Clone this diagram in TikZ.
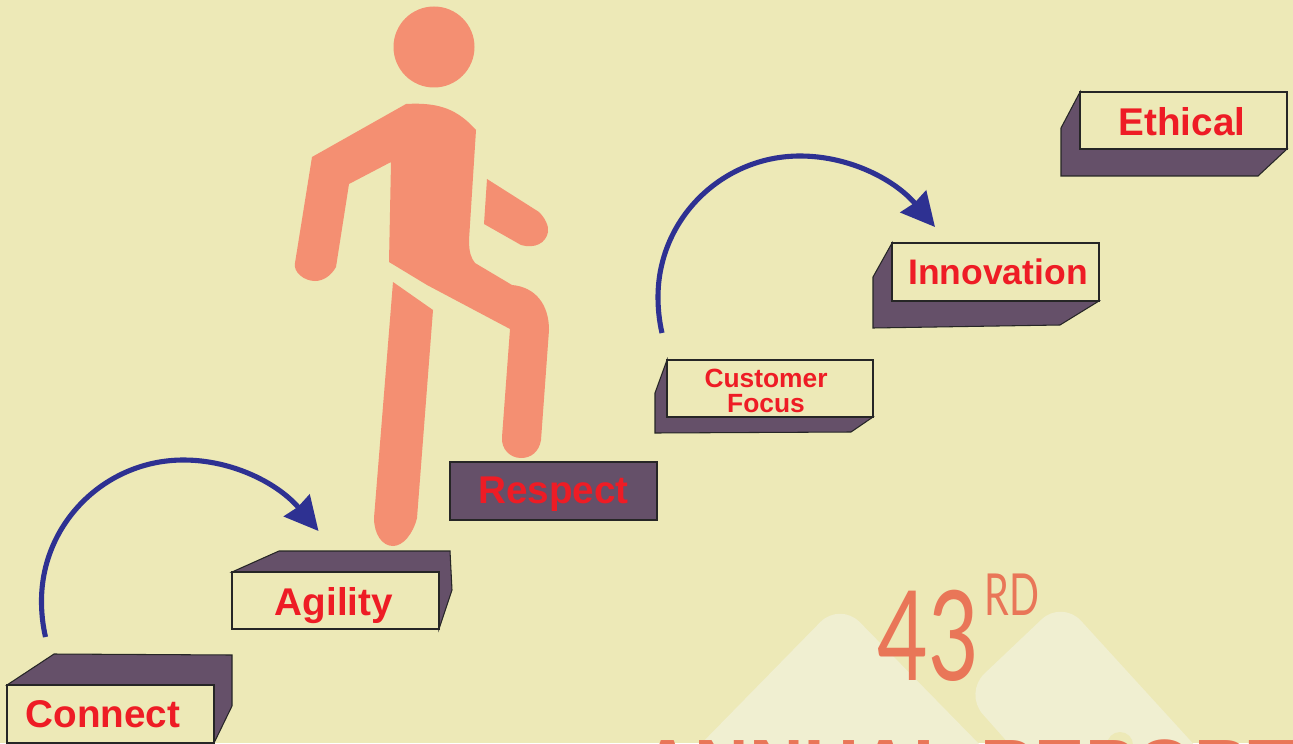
\documentclass[tikz,border=0pt]{standalone}
\usepackage{fontspec}
\setmainfont{Liberation Sans}
\newfontfamily\yearfont{Lato}
\usetikzlibrary{arrows.meta}
\definecolor{paper}{HTML}{EDE9B7}
\definecolor{peak}{HTML}{F0EFD1}
\definecolor{block}{HTML}{655069}
\definecolor{stepred}{HTML}{EE1C25}
\definecolor{archblue}{HTML}{2E3192}
\definecolor{walker}{HTML}{F48F72}
\definecolor{title}{HTML}{E97658}
\tikzset{
	blockside/.style={draw=black!85, line width=0.6pt, fill=block},
	blockfront/.style={draw=black!85, line width=0.6pt, fill=paper},
	steptext/.style={text=stepred, font=\bfseries\fontsize{22}{22}\selectfont},
	steparch/.style={draw=archblue, line width=2.9pt, -{Stealth[length=19pt, width=19pt, inset=1pt]}},
}
\newcommand{\stepfront}[4] % left, top, right, bottom
{
	\draw[blockfront] (#1,#2) rectangle (#3,#4);
}
\begin{document}
\begin{tikzpicture}[x=0.02cm, y=-0.02cm]
	% pixel coordinates, y downwards
	\clip (0,0) rectangle (1293,743);
	\fill[paper] (0,0) rectangle (1293,743);
	% mountains behind the title
	\fill[peak, rounded corners=16pt] (840,602) -- (1080,847) -- (600,847) -- cycle;
	\fill[peak, rounded corners=16pt] (1062,600) -- (1292,852) -- (1105,852) -- (964,693) -- cycle;
	\fill[paper] (1120,745) circle (13);
	\node[anchor=base west, text=title, font=\bfseries\fontsize{43}{43}\selectfont, inner sep=0pt] (annual) at (640,792) {ANNUAL REPORT};
	\node[anchor=base west, text=title, font=\yearfont\fontsize{71}{71}\selectfont, inner sep=0pt] (year) at (877,680) {\scalebox{0.7}[1]{43}};
	\node[anchor=base west, text=title, font=\yearfont\fontsize{33}{33}\selectfont, inner sep=0pt] (suffix) at (984,615) {\scalebox{0.68}[1]{RD}};
	
	% walking figure
	\fill[walker] (434,47) circle (40.5);
	\fill[walker] (406,104) .. controls (440,102) and (458,110) .. (476,130) -- (469,240) .. controls (469,252) and (471,258) .. (475,263) -- (512,285) .. controls (535,287) and (549,304) .. (549,330) -- (541,440) .. controls (539,452) and (531,458) .. (521,458) .. controls (510,458) and (501,449) .. (502,437) -- (510,329) -- (427,285) -- (389,262) -- (391,162) -- (349,184) -- (336,267) .. controls (331,276) and (323,281) .. (315,281) .. controls (304,281) and (293,272) .. (295,263) -- (312,157) -- cycle;
	\fill[walker] (487,179) -- (539,212) .. controls (545,218) and (549,226) .. (548,232) .. controls (546,243) and (535,249) .. (521,245) -- (484,224) -- cycle;
	\fill[walker] (393,282) -- (433,310) -- (417,518) .. controls (413,534) and (403,546) .. (393,546) .. controls (382,546) and (374,534) .. (374,518) -- cycle;
	
	% blocks
	\draw[blockside] (7,685) -- (54,654) -- (232,655) -- (232,706) -- (214,743) -- (214,685) -- cycle;
	\stepfront{7}{685}{214}{743}
	\node[steptext] (connect) at (103,714) {Connect};
	
	\draw[blockside] (232,572) -- (279,551) -- (450,551) -- (452,590) -- (439,629) -- (439,572) -- cycle;
	\stepfront{232}{572}{439}{629}
	\node[steptext] (agility) at (334,606) {Agility};
	
	\draw[blockside] (450,462) rectangle (657,520);
	\node[steptext] (respect) at (553.5,494) {Respect};
	
	\draw[blockside] (667,360) -- (655,393) -- (655,433) -- (851,432) -- (873,417) -- (667,417) -- cycle;
	\stepfront{667}{360}{873}{417}
	\node[steptext, font=\bfseries\fontsize{15}{14.2}\selectfont, align=center] (customer) at (766,391) {Customer\\Focus};
	
	\draw[blockside] (892,243) -- (873,277) -- (873,328) -- (1060,325) -- (1099,301) -- (892,301) -- cycle;
	\stepfront{892}{243}{1099}{301}
	\node[steptext, font=\bfseries\fontsize{20.2}{20}\selectfont] (innovation) at (998,272) {Innovation};
	
	\draw[blockside] (1080,92) -- (1061,128) -- (1061,176) -- (1258,176) -- (1287,149) -- (1080,149) -- cycle;
	\stepfront{1080}{92}{1287}{149}
	\node[steptext] (ethical) at (1182,122) {Ethical};
	
	% arches
	\coordinate (connectout) at (45.5,637);
	\coordinate (agilityin) at (318.5,531);
	\coordinate (customerout) at (662,333);
	\coordinate (innovationin) at (935,227);
	\draw[steparch] (connectout) .. controls (42.5,624) and (41.5,612) .. (41.5,601) .. controls (41.5,523) and (105.5,460) .. (183.5,460) .. controls (233.5,460) and (278.5,484) .. (agilityin);
	\draw[steparch] (customerout) .. controls (659,320) and (658,308) .. (658,297) .. controls (658,219) and (722,156) .. (800,156) .. controls (850,156) and (895,180) .. (innovationin);
\end{tikzpicture}
\end{document}
